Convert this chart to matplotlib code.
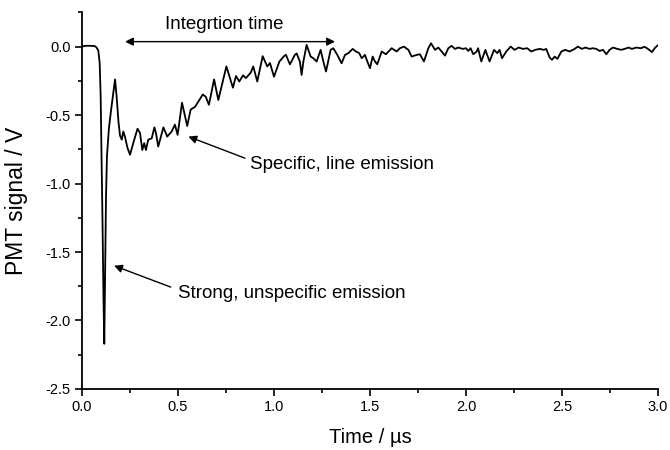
import numpy as np
import matplotlib
matplotlib.use('Agg')
import matplotlib.pyplot as plt
from matplotlib.ticker import MultipleLocator

plt.rcParams['font.family'] = ['Liberation Sans', 'DejaVu Sans']
plt.rcParams['axes.unicode_minus'] = False

# PMT trace (time in us, signal in V)
czas = [0.000, 0.010, 0.030, 0.050, 0.065, 0.075, 0.085, 0.092, 0.097, 0.102,
        0.107, 0.112, 0.116, 0.120, 0.125, 0.130, 0.140, 0.150, 0.160, 0.172,
        0.180, 0.190, 0.198, 0.207, 0.215, 0.224, 0.237, 0.250, 0.267, 0.289,
        0.302, 0.314, 0.324, 0.333, 0.345, 0.363, 0.377, 0.385, 0.397, 0.424,
        0.444, 0.467, 0.484, 0.498, 0.521, 0.548, 0.566, 0.589, 0.611, 0.629,
        0.644, 0.661, 0.688, 0.710, 0.729, 0.752, 0.786, 0.802, 0.819, 0.839,
        0.854, 0.879, 0.892, 0.913, 0.941, 0.965, 0.979, 1.000, 1.028, 1.052,
        1.062, 1.083, 1.109, 1.118, 1.135, 1.144, 1.153, 1.170, 1.191, 1.205,
        1.222, 1.243, 1.257, 1.271, 1.295, 1.309, 1.330, 1.352, 1.370, 1.387,
        1.410, 1.427, 1.444, 1.457, 1.474, 1.483, 1.500, 1.514, 1.526, 1.538,
        1.561, 1.583, 1.613, 1.639, 1.656, 1.677, 1.700, 1.717, 1.743, 1.760,
        1.781, 1.804, 1.818, 1.839, 1.856, 1.873, 1.891, 1.908, 1.925, 1.943,
        1.960, 1.983, 2.000, 2.012, 2.024, 2.038, 2.056, 2.063, 2.080, 2.101,
        2.123, 2.146, 2.163, 2.175, 2.188, 2.210, 2.233, 2.253, 2.274, 2.297,
        2.319, 2.340, 2.361, 2.384, 2.406, 2.418, 2.436, 2.448, 2.462, 2.476,
        2.497, 2.517, 2.540, 2.566, 2.583, 2.604, 2.622, 2.644, 2.661, 2.679,
        2.696, 2.714, 2.731, 2.748, 2.766, 2.788, 2.809, 2.826, 2.847, 2.865,
        2.887, 2.910, 2.931, 2.948, 2.969, 2.983, 2.997]
sygnal = [0.000, 0.004, 0.006, 0.005, 0.004, -0.005, -0.030, -0.120, -0.350, -0.800,
          -1.300, -1.850, -2.170, -1.700, -1.100, -0.800, -0.600, -0.480, -0.370, -0.240,
          -0.360, -0.550, -0.650, -0.680, -0.620, -0.660, -0.740, -0.790, -0.705, -0.600,
          -0.630, -0.755, -0.705, -0.755, -0.680, -0.670, -0.590, -0.630, -0.730, -0.590,
          -0.657, -0.620, -0.570, -0.645, -0.410, -0.580, -0.460, -0.440, -0.390, -0.350,
          -0.365, -0.425, -0.240, -0.390, -0.280, -0.145, -0.300, -0.215, -0.255, -0.210,
          -0.230, -0.190, -0.145, -0.255, -0.070, -0.145, -0.120, -0.220, -0.110, -0.070,
          -0.060, -0.130, -0.060, -0.050, -0.110, -0.207, -0.110, 0.012, -0.073, -0.085,
          -0.109, -0.024, -0.109, -0.182, -0.024, -0.012, -0.061, -0.122, -0.061, -0.048,
          -0.017, -0.036, -0.048, -0.085, -0.061, -0.097, -0.158, -0.073, -0.109, -0.129,
          -0.036, -0.056, -0.012, -0.036, -0.012, 0.000, -0.024, -0.073, -0.061, -0.056,
          -0.109, -0.012, 0.024, -0.024, -0.007, -0.036, -0.066, -0.012, 0.005, -0.017,
          -0.007, -0.017, -0.012, -0.032, -0.012, -0.056, -0.036, -0.012, -0.109, -0.024,
          -0.109, -0.024, -0.048, -0.024, -0.085, -0.036, 0.000, -0.024, -0.007, -0.017,
          -0.012, -0.036, -0.024, -0.017, -0.024, -0.017, -0.080, -0.097, -0.073, -0.090,
          -0.036, -0.024, -0.036, -0.017, 0.000, -0.017, -0.007, -0.017, -0.012, -0.017,
          -0.032, -0.024, -0.056, -0.024, -0.007, -0.017, -0.024, -0.017, -0.007, -0.017,
          -0.007, -0.012, -0.002, -0.017, -0.040, -0.012, 0.007]

fig = plt.figure(figsize=(6.7, 4.5), dpi=100)
ax = fig.add_axes([0.1224, 0.1356, 0.8596, 0.837])

ax.plot(czas, sygnal, color='black', linewidth=1.3)

ax.set_xlim(0, 3.0)
ax.set_ylim(-2.5, 0.25)
ax.xaxis.set_minor_locator(MultipleLocator(0.25))
ax.yaxis.set_minor_locator(MultipleLocator(0.25))
ax.set_xticks([0.0, 0.5, 1.0, 1.5, 2.0, 2.5, 3.0])
ax.set_xticklabels(['0.0', '0.5', '1.0', '1.5', '2.0', '2.5', '3.0'])
ax.set_yticks([-2.5, -2.0, -1.5, -1.0, -0.5, 0.0])
ax.set_yticklabels(['-2.5', '-2.0', '-1.5', '-1.0', '-0.5', '0.0'])

ax.spines['top'].set_visible(False)
ax.spines['right'].set_visible(False)
ax.spines['left'].set_linewidth(1.3)
ax.spines['bottom'].set_linewidth(1.3)
ax.tick_params(which='major', direction='out', length=5, width=1.2, labelsize=10.5, pad=3)
ax.tick_params(which='minor', direction='out', length=3, width=1.2)

ax.set_xlabel('Time / \u00b5s', fontsize=14.5, va='center')
ax.xaxis.set_label_coords(0.5, -0.1275)
ax.set_ylabel('PMT signal / V', fontsize=16.5, va='center')
ax.yaxis.set_label_coords(-0.114, 0.5)

strzalka = dict(arrowstyle='-|>', color='black', lw=1.0, mutation_scale=12, shrinkA=0, shrinkB=0)

# integration time double arrow
ax.annotate('', xy=(0.224, 0.036), xytext=(1.318, 0.036),
            arrowprops=dict(arrowstyle='<|-|>', color='black', lw=1.0, mutation_scale=12,
                            shrinkA=0, shrinkB=0))
ax.text(0.742, 0.16, 'Integrtion time', fontsize=13.5, ha='center', va='center')

ax.annotate('', xy=(0.554, -0.657), xytext=(0.849, -0.815), arrowprops=strzalka)
ax.text(0.875, -0.864, 'Specific, line emission', fontsize=13.5, ha='left', va='center')

ax.annotate('', xy=(0.167, -1.60), xytext=(0.462, -1.756), arrowprops=strzalka)
ax.text(0.502, -1.80, 'Strong, unspecific emission', fontsize=13.5, ha='left', va='center')

fig.savefig('out.png', dpi=100)
